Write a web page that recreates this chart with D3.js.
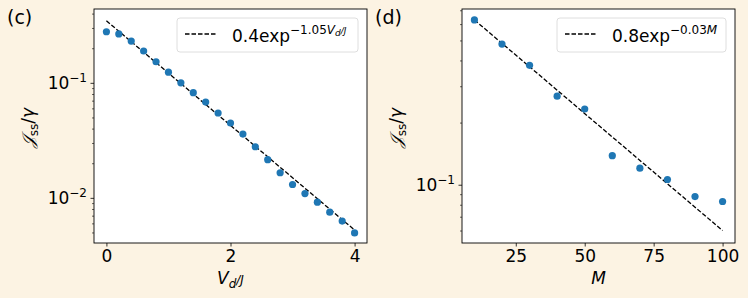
<!DOCTYPE html>
<html>
<head>
<meta charset="utf-8">
<script src="https://cdn.jsdelivr.net/npm/d3@7"></script>
<style>
  body { margin: 0; background: #fcf3e3; }
  svg { display: block; font-family: "DejaVu Sans", sans-serif; }
</style>
</head>
<body>
<svg id="vis" width="748" height="298"></svg>
<script>
// panel (c): flux vs V_d/J
const vdVals = [0, 0.2, 0.4, 0.6, 0.8, 1.0, 1.2, 1.4, 1.6, 1.8, 2.0, 2.2, 2.4, 2.6, 2.8, 3.0, 3.2, 3.4, 3.6, 3.8, 4.0];
const fluxC = [0.281, 0.269, 0.233, 0.191, 0.154, 0.125, 0.101, 0.083, 0.0687, 0.0552, 0.0452, 0.0362, 0.0281, 0.0217, 0.0167, 0.0132, 0.0110, 0.00927, 0.00758, 0.00635, 0.0050];
const fitC = [[0, 0.35], [4, 0.0053]];
const xTicksC = [0, 2, 4];
const yTicksC = [1e-2, 1e-1];

// panel (d): flux vs M
const mVals = [10, 20, 30, 40, 50, 60, 70, 80, 90, 100];
const fluxD = [0.632, 0.483, 0.381, 0.270, 0.234, 0.139, 0.121, 0.1066, 0.0881, 0.0834];
const fitD = [[10, 0.632], [100, 0.0603]];
const xTicksD = [25, 50, 75, 100];
const yTicksD = [1e-1];

const svg = d3.select("#vis");

translate = function(a, b) {
  return "translate(" + a + "," + b + ")";
}

drawPanel = function(opt) {
  const top = 9, bottom = 243;
  let x = d3.scaleLinear().domain(opt.xDomain).range([opt.left, opt.right]);
  let y = d3.scaleLog().domain(opt.yDomain).range([bottom, top]);

  let g = svg.append("g");

  g.append("rect")
    .attr("x", opt.left).attr("y", top)
    .attr("width", opt.right - opt.left).attr("height", bottom - top)
    .attr("fill", "white");

  // x axis
  let xAxis = g.append("g")
    .attr("transform", translate(0, bottom))
    .call(d3.axisBottom(x).tickValues(opt.xTicks).tickSize(3.5).tickPadding(3).tickFormat(d3.format("d")));
  xAxis.select(".domain").remove();
  xAxis.selectAll("text").attr("font-size", 17).attr("fill", "black").attr("font-family", "DejaVu Sans");
  xAxis.selectAll("line").attr("stroke-width", 0.8);

  // y minor ticks
  let minor = y.ticks().filter(function(v) { return opt.yTicks.indexOf(v) < 0; });
  g.selectAll(".minor")
    .data(minor)
    .enter().append("line")
    .attr("x1", opt.left - 2).attr("x2", opt.left)
    .attr("y1", function(d) { return y(d); })
    .attr("y2", function(d) { return y(d); })
    .attr("stroke", "black").attr("stroke-width", 0.6);

  // y major ticks with 10^n labels
  let major = g.selectAll(".major")
    .data(opt.yTicks)
    .enter().append("g")
    .attr("transform", function(d) { return translate(0, y(d)); });
  major.append("line")
    .attr("x1", opt.left - 3.5).attr("x2", opt.left)
    .attr("stroke", "black").attr("stroke-width", 0.8);
  let lab = major.append("text")
    .attr("x", opt.left - 7)
    .attr("y", 6)
    .attr("text-anchor", "end")
    .attr("font-size", 17);
  lab.append("tspan").text("10");
  lab.append("tspan")
    .attr("font-size", 12)
    .attr("dy", -7)
    .text(function(d) { return "\u2212" + Math.round(-Math.log10(d)); });

  // fit line
  g.append("path")
    .datum(opt.fit)
    .attr("d", d3.line().x(function(d) { return x(d[0]); }).y(function(d) { return y(d[1]); }))
    .attr("fill", "none")
    .attr("stroke", "black")
    .attr("stroke-width", 1.3)
    .attr("stroke-dasharray", "4.5,2");

  // points
  g.selectAll(".pt")
    .data(opt.xs)
    .enter().append("circle")
    .attr("cx", function(d) { return x(d); })
    .attr("cy", function(d, i) { return y(opt.ys[i]); })
    .attr("r", 3.6)
    .attr("fill", "#1f77b4");

  // frame
  g.append("rect")
    .attr("x", opt.left).attr("y", top)
    .attr("width", opt.right - opt.left).attr("height", bottom - top)
    .attr("fill", "none").attr("stroke", "black").attr("stroke-width", 0.9);

  // legend
  let leg = g.append("g").attr("transform", translate(opt.legX, 18));
  leg.append("rect")
    .attr("width", opt.legW).attr("height", 34)
    .attr("rx", 3)
    .attr("fill", "white").attr("fill-opacity", 0.8)
    .attr("stroke", "#d5d5d5").attr("stroke-width", 0.8);
  leg.append("line")
    .attr("x1", 8).attr("x2", 40).attr("y1", 16).attr("y2", 16)
    .attr("stroke", "black").attr("stroke-width", 1.3).attr("stroke-dasharray", "4.5,2");
  let lt = leg.append("text")
    .attr("x", 55).attr("y", 24)
    .attr("font-size", 17);
  lt.append("tspan").text(opt.legMain);
  let sup = lt.append("tspan").attr("dy", -8).attr("font-size", 12);
  opt.legSup.forEach(function(p) {
    sup.append("tspan")
      .attr("font-style", p[1] ? "italic" : "normal")
      .attr("font-size", p[2] ? 9 : 12)
      .attr("dy", p[2] ? p[2] : null)
      .text(p[0]);
  });

  // axis labels
  let xl = g.append("text")
    .attr("x", (opt.left + opt.right) / 2)
    .attr("y", 284)
    .attr("text-anchor", "middle")
    .attr("font-size", 17)
    .attr("font-style", "italic");
  opt.xLabel.forEach(function(p) {
    xl.append("tspan")
      .attr("font-size", p[1] ? 12 : 17)
      .attr("dy", p[1])
      .text(p[0]);
  });

  let yl = g.append("text")
    .attr("transform", translate(opt.yLabX, 128) + " rotate(-90)")
    .attr("text-anchor", "middle")
    .attr("font-size", 17);
  yl.append("tspan").attr("font-family", "DejaVu Serif").attr("font-style", "italic").text("\uD835\uDCA5");
  yl.append("tspan").attr("font-size", 12).attr("dy", 4).text("ss");
  yl.append("tspan").attr("dy", -4).text("/");
  yl.append("tspan").attr("font-style", "italic").text("\u03B3");

  // panel tag
  svg.append("text")
    .attr("x", opt.tagX).attr("y", 24)
    .attr("font-size", 19)
    .text(opt.tag);
}

drawPanel({
  left: 94, right: 367,
  xDomain: [-0.2, 4.2], yDomain: [0.00409, 0.443],
  xs: vdVals, ys: fluxC, fit: fitC,
  xTicks: xTicksC, yTicks: yTicksC,
  legX: 177, legW: 181,
  legMain: "0.4exp",
  legSup: [["\u22121.05", false], ["V", true], ["d", true, 2], ["/J", true, -2]],
  xLabel: [["V", 0], ["d", 4], ["/J", -4]],
  yLabX: 34, tag: "(c)", tagX: 7
});

drawPanel({
  left: 462, right: 735,
  xDomain: [5.5, 104.5], yDomain: [0.0525, 0.714],
  xs: mVals, ys: fluxD, fit: fitD,
  xTicks: xTicksD, yTicks: yTicksD,
  legX: 557, legW: 169,
  legMain: "0.8exp",
  legSup: [["\u22120.03", false], ["M", true]],
  xLabel: [["M", 0]],
  yLabX: 402, tag: "(d)", tagX: 375
});
</script>
</body>
</html>
